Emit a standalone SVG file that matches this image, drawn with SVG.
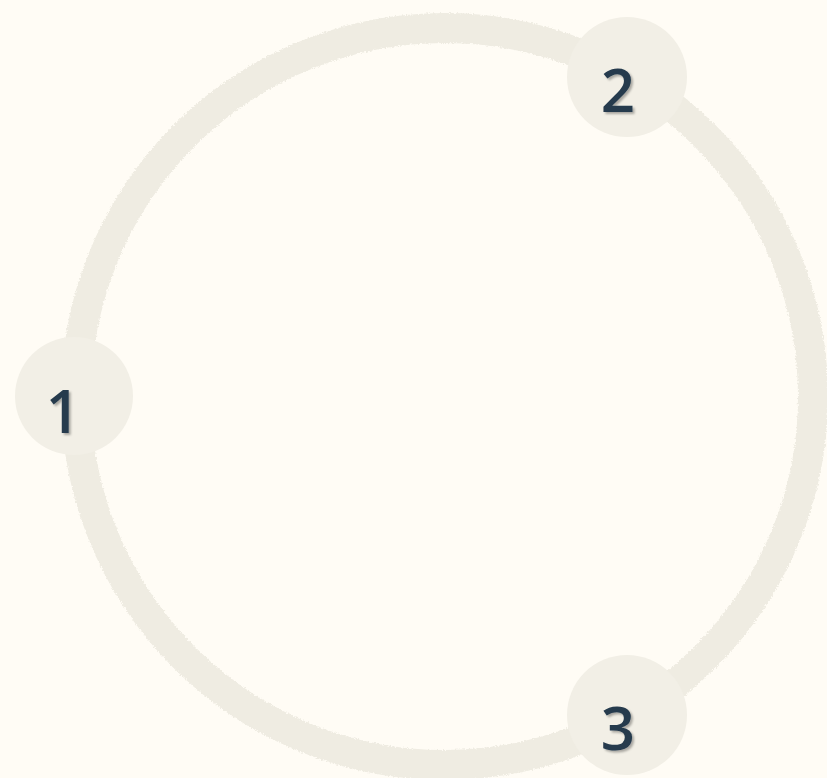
<svg xmlns="http://www.w3.org/2000/svg" width="827" height="778" viewBox="0 0 827 778">
<defs>
<filter id="rough" x="-5%" y="-5%" width="110%" height="110%">
<feTurbulence type="fractalNoise" baseFrequency="0.6" numOctaves="2" seed="3" result="n"/>
<feDisplacementMap in="SourceGraphic" in2="n" scale="4" xChannelSelector="R" yChannelSelector="G"/>
</filter>
<filter id="shadow" x="-30%" y="-30%" width="160%" height="160%">
<feDropShadow dx="2" dy="2" stdDeviation="1.2" flood-color="#000" flood-opacity="0.3"/>
</filter>
<style>
.ring{fill:none;stroke:#EFECE2;stroke-width:30}
.node{fill:#F2EFE6}
.lbl{font-family:"Open Sans","Liberation Sans",sans-serif;font-weight:600;font-size:60px;fill:#263B4D;text-anchor:middle}
</style>
</defs>
<rect width="827" height="778" fill="#FFFCF5"/>
<g id="connectors">
<circle class="ring" cx="444.5" cy="396.5" r="368.5" filter="url(#rough)"/>
</g>
<g id="node1">
<circle class="node" cx="74" cy="396" r="59"/>
<text class="lbl" x="63" y="433" filter="url(#shadow)">1</text>
</g>
<g id="node2">
<circle class="node" cx="627" cy="77" r="60"/>
<text class="lbl" x="618" y="112" filter="url(#shadow)">2</text>
</g>
<g id="node3">
<circle class="node" cx="627" cy="715" r="60"/>
<text class="lbl" x="618" y="750" filter="url(#shadow)">3</text>
</g>
</svg>
